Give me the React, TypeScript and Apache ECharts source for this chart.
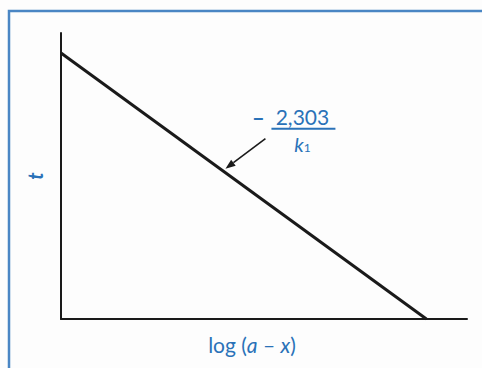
import React, { useEffect, useRef } from 'react';
import * as echarts from 'echarts';

// Straight-line plot of a first-order reaction: t against log(a − x)
const logAX: number[] = [0, 0.9];
const tValues: number[] = [0.93, 0];

// Slope annotation text
const slopeSign = '–';
const slopeNumerator = '2,303';
const slopeDenominator = 'k';
const slopeSubscript = '1';

// Point on the line (x in data units) where the arrow points
const arrowAtX = 0.405;

const BLUE = '#2a72b8';
const FRAME = '#4a86c4';
const INK = '#1a1a1a';
const FONT = 'Lato, "Open Sans", sans-serif';

export default function App() {
  const ref = useRef<HTMLDivElement>(null);

  useEffect(() => {
    if (!ref.current) return;
    const chart = echarts.init(ref.current, undefined, { renderer: 'svg' });

    chart.setOption({
      animation: false,
      backgroundColor: '#fdfdfd',
      grid: { left: 61, top: 33, right: 15, bottom: 49 },
      xAxis: {
        type: 'value',
        min: 0,
        max: 1,
        axisLine: { show: true, lineStyle: { color: INK, width: 2 } },
        axisTick: { show: false },
        axisLabel: { show: false },
        splitLine: { show: false },
        name: '{n|log (}{i|a}{n| – }{i|x}{n|)}',
        nameLocation: 'middle',
        nameGap: 15,
        nameTextStyle: {
          padding: [0, 24, 0, 0],
          rich: {
            n: { color: BLUE, fontSize: 21, fontFamily: FONT },
            i: { color: BLUE, fontSize: 21, fontFamily: FONT, fontStyle: 'italic' },
          },
        },
      },
      yAxis: {
        type: 'value',
        min: 0,
        max: 1,
        axisLine: { show: true, lineStyle: { color: INK, width: 2 } },
        axisTick: { show: false },
        axisLabel: { show: false },
        splitLine: { show: false },
        name: 't',
        nameLocation: 'middle',
        nameRotate: 90,
        nameGap: 16,
        nameTextStyle: {
          color: BLUE,
          fontSize: 20,
          fontFamily: FONT,
          fontStyle: 'italic',
          fontWeight: 'bold',
        },
      },
      series: [
        {
          type: 'line',
          data: logAX.map((x, i) => [x, tValues[i]]),
          symbol: 'none',
          lineStyle: { color: INK, width: 3 },
          silent: true,
        },
      ],
    });

    // Arrow tip sits on the line at arrowAtX
    const slope = (tValues[1] - tValues[0]) / (logAX[1] - logAX[0]);
    const yOnLine = tValues[0] + slope * (arrowAtX - logAX[0]);
    const p = chart.convertToPixel('grid', [arrowAtX, yOnLine]) as number[];
    const tip = [p[0], p[1] - 4];
    const tail = [tip[0] + 40, tip[1] - 30];
    const len = Math.hypot(tail[0] - tip[0], tail[1] - tip[1]);
    const d = [(tail[0] - tip[0]) / len, (tail[1] - tip[1]) / len];
    const perp = [-d[1], d[0]];
    const headLen = 10;
    const headHalf = 3.8;
    const base = [tip[0] + d[0] * headLen, tip[1] + d[1] * headLen];

    chart.setOption({
      graphic: [
        {
          type: 'rect',
          shape: { x: 9, y: 11, width: 520, height: 420 },
          style: { fill: 'none', stroke: FRAME, lineWidth: 2.5 },
          silent: true,
        },
        {
          type: 'line',
          shape: { x1: tail[0], y1: tail[1], x2: base[0], y2: base[1] },
          style: { stroke: INK, lineWidth: 1.6 },
        },
        {
          type: 'polygon',
          shape: {
            points: [
              tip,
              [base[0] + perp[0] * headHalf, base[1] + perp[1] * headHalf],
              [base[0] - perp[0] * headHalf, base[1] - perp[1] * headHalf],
            ],
          },
          style: { fill: INK },
        },
        {
          type: 'text',
          x: tail[0] - 7,
          y: tail[1] - 21,
          style: {
            text: slopeSign,
            fill: BLUE,
            fontSize: 22,
            fontFamily: FONT,
            fontWeight: 'bold',
            align: 'center',
            verticalAlign: 'middle',
          },
        },
        {
          type: 'text',
          x: tail[0] + 37,
          y: tail[1] - 22,
          style: {
            text: slopeNumerator,
            fill: BLUE,
            fontSize: 21,
            fontFamily: FONT,
            align: 'center',
            verticalAlign: 'middle',
          },
        },
        {
          type: 'line',
          shape: { x1: tail[0] + 6, y1: tail[1] - 10, x2: tail[0] + 70, y2: tail[1] - 10 },
          style: { stroke: BLUE, lineWidth: 2 },
        },
        {
          type: 'text',
          x: tail[0] + 37,
          y: tail[1] + 5,
          style: {
            text: '{k|' + slopeDenominator + '}{s|' + slopeSubscript + '}',
            align: 'center',
            verticalAlign: 'middle',
            rich: {
              k: { fill: BLUE, fontSize: 20, fontFamily: FONT, fontStyle: 'italic' },
              s: { fill: BLUE, fontSize: 12, fontFamily: FONT, padding: [8, 0, 0, 0] },
            },
          },
        },
      ],
    });

    return () => chart.dispose();
  }, []);

  return (
    <div
      ref={ref}
      style={{ position: 'fixed', left: 0, top: 0, width: 482, height: 368 }}
    />
  );
}
